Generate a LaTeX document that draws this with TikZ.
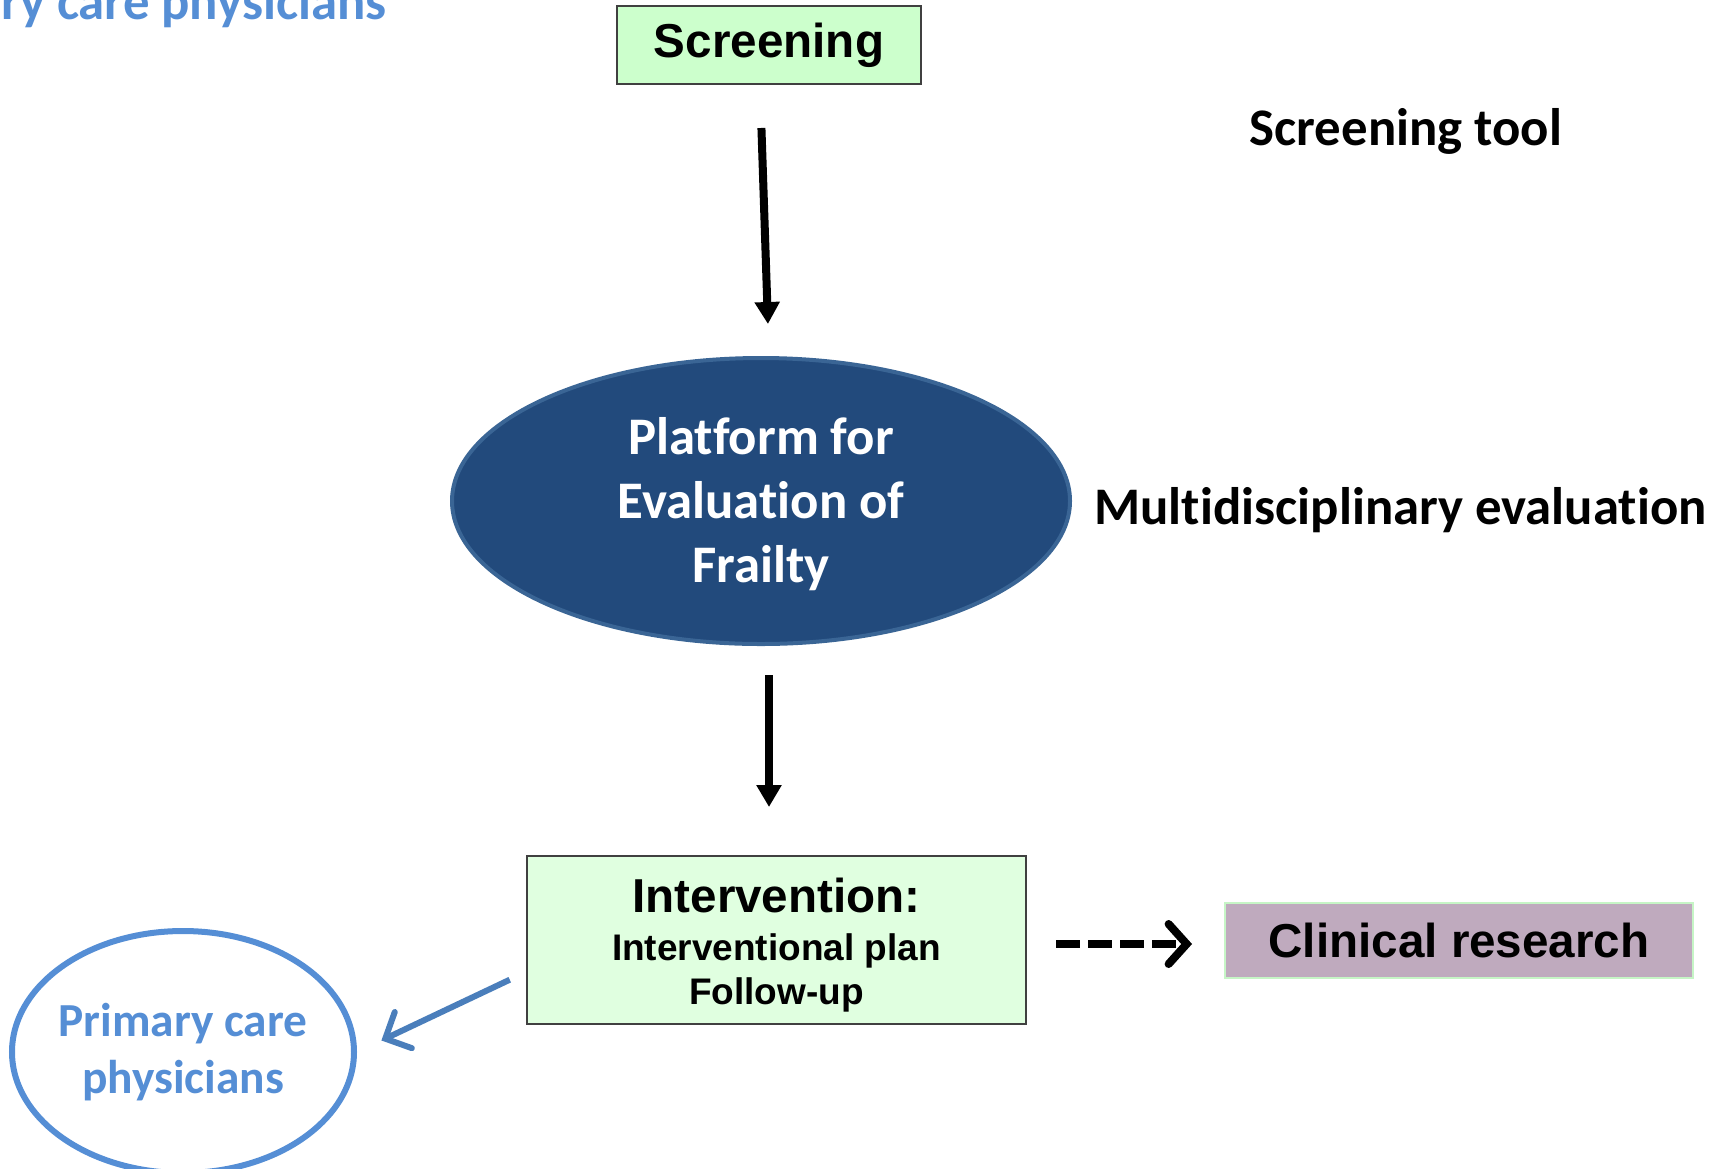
\documentclass[tikz,border=0pt]{standalone}
\usepackage{fontspec}
\setmainfont{Liberation Sans}
\newfontfamily\calibri[Ligatures=NoCommon]{Carlito}
\usepackage{xcolor}
\usetikzlibrary{shapes.geometric, arrows.meta, positioning, calc}

\definecolor{screengreen}{HTML}{CCFFCC}
\definecolor{intgreen}{HTML}{E0FFE0}
\definecolor{clinmauve}{HTML}{BFAABE}
\definecolor{clinedge}{HTML}{C6F5C6}
\definecolor{pefblue}{HTML}{224A7C}
\definecolor{pefedge}{HTML}{3A6595}
\definecolor{pcpblue}{HTML}{558ED5}
\definecolor{arrowblue}{HTML}{4A7EBB}

\begin{document}
\begin{tikzpicture}[
    x=0.5pt, y=-0.5pt,
    greenbox/.style={rectangle, draw=black!75, fill=screengreen, line width=1pt, inner sep=0pt, align=center, font=\bfseries\fontsize{23.8pt}{28pt}\selectfont},
    platform/.style={ellipse, draw=pefedge, fill=pefblue, line width=2pt, inner sep=0pt, minimum width=309pt, minimum height=143pt, align=center, text=white, font=\calibri\bfseries\fontsize{26.4pt}{32pt}\selectfont},
    doctors/.style={ellipse, draw=pcpblue, line width=3pt, inner sep=0pt, inner xsep=-8pt, minimum width=171pt, minimum height=121pt, align=center, text=pcpblue, font=\calibri\bfseries\fontsize{23.7pt}{28.5pt}\selectfont},
    note/.style={inner sep=0pt, font=\calibri\bfseries\fontsize{26.4pt}{32pt}\selectfont},
    arrow/.style={-{Triangle[width=12pt,length=11pt]}, line width=4pt},
    dasharrow/.style={-{Straight Barb[width=20pt,length=9pt,line cap=round]}, line width=4pt, dash pattern=on 12pt off 4pt},
    bluearrow/.style={-{Straight Barb[width=20pt,length=10pt,line cap=round]}, line width=3pt, draw=arrowblue}
]
\useasboundingbox (0,0) rectangle (1718,1168);
\clip (0,0) rectangle (1718,1168);

% Main column
\node[greenbox, minimum width=152pt, minimum height=39pt] (screen) at (769,45) {Screening};
\node[platform] (pef) at (761,501) {\rule{0pt}{22pt}Platform for\\Evaluation of\\Frailty};
\node[greenbox, fill=intgreen, minimum width=249.5pt, minimum height=84pt] (inter) at (776.5,940) {\rule{0pt}{22.5pt}Intervention:\\[-4.2pt]{\fontsize{18.5pt}{22.5pt}\selectfont Interventional plan}\\[-5.6pt]{\fontsize{18.5pt}{22.5pt}\selectfont Follow-up}};

% Side nodes
\node[greenbox, draw=clinedge, fill=clinmauve, minimum width=234pt, minimum height=37.5pt, right=98.5pt of inter] (clin) {Clinical research};
\node[doctors] (pcp) at (183,1052) {Primary care\\physicians};

% Labels
\node[note, anchor=base] (tool) at (1406,145) {Screening tool};
\node[note, anchor=base west] (multi) at (1094,524) {Multidisciplinary evaluation};
\node[note, anchor=base east, text=pcpblue] (pcptop) at (387,19) {Primary care physicians};

% Connectors
\draw[arrow, shorten <=21.5pt, shorten >=16pt] ([xshift=-4.5pt]screen.south) -- ([xshift=4pt]pef.north);
\draw[arrow, shorten <=14.5pt, shorten >=24pt] ([xshift=4pt]pef.south) -- ([xshift=4pt]pef.south |- inter.north);
\draw[dasharrow, shorten <=14.5pt, shorten >=16pt] ([yshift=-2pt]inter.east) -- ([yshift=-2pt]clin.west);
\draw[bluearrow, shorten <=9pt, shorten >=13.5pt] ([yshift=-16pt]inter.west) -- (pcp.east);

\end{tikzpicture}
\end{document}
